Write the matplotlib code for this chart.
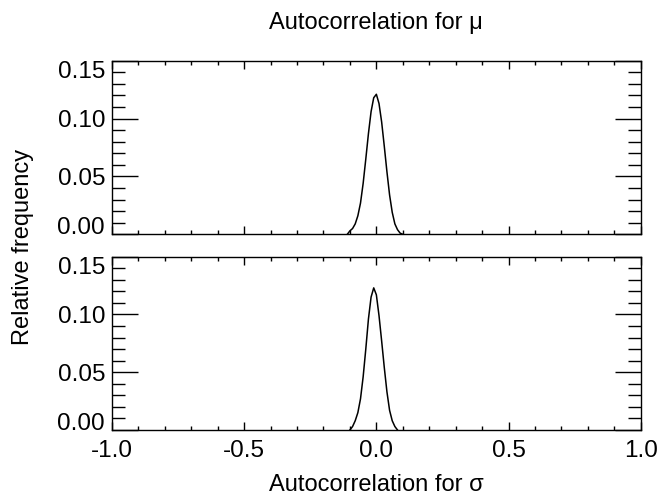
import numpy as np
import matplotlib
matplotlib.use("Agg")
import matplotlib.pyplot as plt
from matplotlib.ticker import MultipleLocator, FormatStrFormatter

# histogram of autocorrelation (relative frequency)
mu_x = [-0.11, -0.10, -0.09, -0.08, -0.07, -0.06, -0.05, -0.04, -0.03, -0.02, -0.01,
        0.00, 0.01, 0.02, 0.03, 0.04, 0.05, 0.06, 0.07, 0.08, 0.09, 0.10]
mu_freq = [0.000, 0.003, 0.005, 0.009, 0.016, 0.027, 0.044, 0.065, 0.087, 0.106, 0.118,
           0.121, 0.113, 0.097, 0.076, 0.054, 0.034, 0.019, 0.009, 0.004, 0.001, 0.000]

sigma_x = [-0.10, -0.09, -0.08, -0.07, -0.06, -0.05, -0.04, -0.03, -0.02, -0.01,
           0.00, 0.01, 0.02, 0.03, 0.04, 0.05, 0.06, 0.07, 0.08]
sigma_freq = [0.000, 0.003, 0.008, 0.015, 0.027, 0.046, 0.070, 0.096, 0.115, 0.123,
              0.117, 0.099, 0.077, 0.054, 0.033, 0.017, 0.008, 0.003, 0.000]

x_ticks = [-1.0, -0.5, 0.0, 0.5, 1.0]
y_ticks = [0.00, 0.05, 0.10, 0.15]

plt.rcParams['font.family'] = ['Liberation Sans', 'DejaVu Sans']
plt.rcParams['font.size'] = 17.5
plt.rcParams['axes.unicode_minus'] = False

fig = plt.figure(figsize=(6.71, 4.96), dpi=100)
ax1 = fig.add_axes([0.1669, 0.5276, 0.7880, 0.3500])
ax2 = fig.add_axes([0.1669, 0.1331, 0.7880, 0.3494])

for ax, xs, ys in [(ax1, mu_x, mu_freq), (ax2, sigma_x, sigma_freq)]:
    ax.plot(xs, ys, color='black', lw=1.1)
    ax.set_xlim(-1.0, 1.0)
    ax.set_ylim(0.0, 0.15)
    ax.set_xticks(x_ticks)
    ax.set_yticks(y_ticks)
    ax.xaxis.set_minor_locator(MultipleLocator(0.1))
    ax.yaxis.set_minor_locator(MultipleLocator(0.01))
    ax.xaxis.set_major_formatter(FormatStrFormatter('%.1f'))
    ax.yaxis.set_major_formatter(FormatStrFormatter('%.2f'))
    ax.tick_params(which='both', direction='in', top=True, right=True, width=1.0, colors='black')
    ax.tick_params(axis='x', which='major', length=5.8, pad=7)
    ax.tick_params(axis='x', which='minor', length=2.9)
    ax.tick_params(axis='y', which='major', length=18.7, pad=5)
    ax.tick_params(axis='y', which='minor', length=9.4)
    for s in ax.spines.values():
        s.set_linewidth(1.0)
    # end labels sit inside the axis range, as in the original
    yt = ax.yaxis.get_major_ticks()
    yt[0].label1.set_va('baseline')
    yt[-1].label1.set_va('top')

ax1.tick_params(axis='x', labelbottom=False)

fig.text(0.5603, 1 - 29 / 496, 'Autocorrelation for μ', ha='center', va='baseline', fontsize=17)
fig.text(0.5603, 1 - 491 / 496, 'Autocorrelation for σ', ha='center', va='baseline', fontsize=17)
fig.text(23 / 671, 1 - 247 / 496, 'Relative frequency', ha='center', va='center',
         rotation=90, fontsize=17)

fig.savefig('out.png', dpi=100)
